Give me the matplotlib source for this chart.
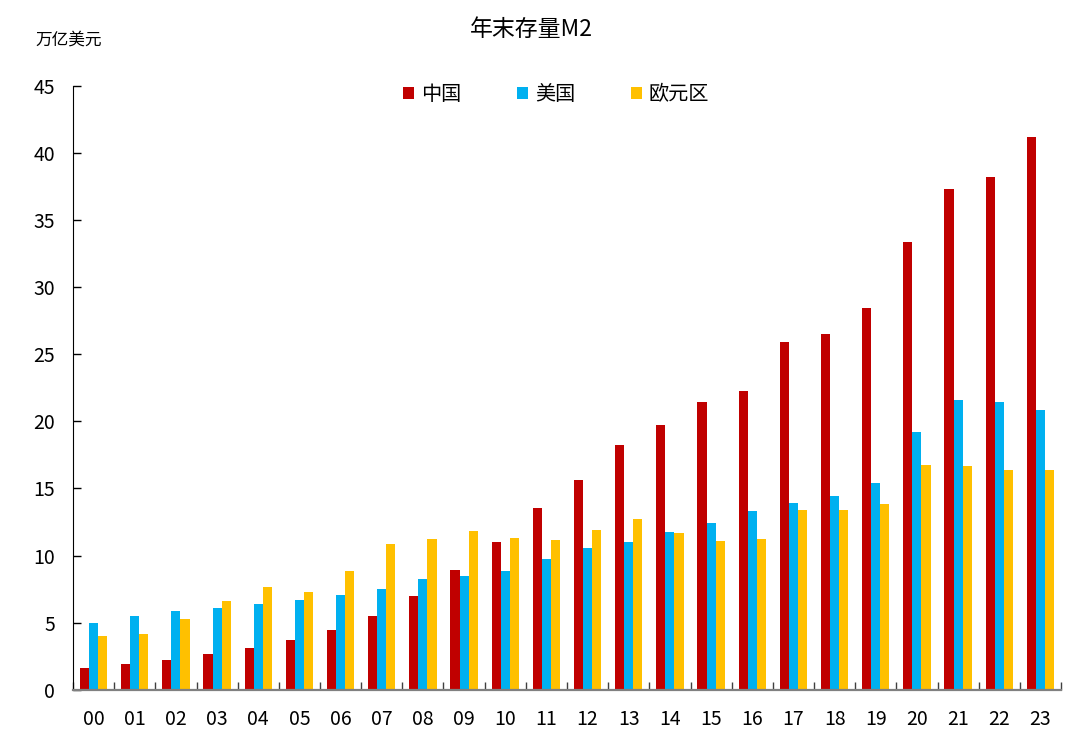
import numpy as np
import matplotlib
matplotlib.use("Agg")
import matplotlib.pyplot as plt
from matplotlib.patches import Patch

plt.rcParams['font.family'] = ['Noto Sans CJK SC', 'DejaVu Sans']

# 年份（两位数）
years = ['00', '01', '02', '03', '04', '05', '06', '07', '08', '09', '10', '11',
         '12', '13', '14', '15', '16', '17', '18', '19', '20', '21', '22', '23']

# 年末存量M2，万亿美元
china = [1.61, 1.91, 2.21, 2.63, 3.08, 3.72, 4.44, 5.53, 6.97, 8.95, 10.98, 13.51,
         15.6, 18.24, 19.73, 21.41, 22.28, 25.9, 26.54, 28.43, 33.36, 37.3, 38.24, 41.17]
usa = [4.94, 5.46, 5.83, 6.12, 6.42, 6.72, 7.07, 7.49, 8.23, 8.5, 8.88, 9.72,
       10.54, 11.03, 11.78, 12.42, 13.29, 13.93, 14.45, 15.39, 19.23, 21.61, 21.41, 20.85]
euro = [3.99, 4.14, 5.26, 6.62, 7.64, 7.29, 8.88, 10.83, 11.26, 11.85, 11.33, 11.18,
        11.93, 12.69, 11.7, 11.06, 11.26, 13.43, 13.43, 13.86, 16.78, 16.71, 16.41, 16.41]

names = ['中国', '美国', '欧元区']
colors = ['#C00000', '#00B0F0', '#FFC000']

fig = plt.figure(figsize=(10.8, 7.52), dpi=100)
ax = fig.add_axes([73 / 1080, 1 - 689.7 / 752, 988 / 1080, (689.7 - 86) / 752])

x = np.arange(len(years))
w = 0.22
for i, (vals, c) in enumerate(zip([china, usa, euro], colors)):
    ax.bar(x + (i - 1) * w, vals, width=w, color=c, linewidth=0)

ax.set_xlim(-0.5, len(years) - 0.5)
ax.set_ylim(0, 45)
ax.set_yticks(np.arange(0, 46, 5))
ax.tick_params(axis='y', direction='in', length=6, width=1, pad=13, labelsize=14)

# 类别标签在中心，刻度线在分组之间
ax.set_xticks(x)
ax.set_xticklabels(years)
ax.tick_params(axis='x', which='major', length=0, pad=14, labelsize=14)
ax.set_xticks(np.arange(-0.5, len(years) + 0.5, 1), minor=True)
ax.tick_params(axis='x', which='minor', direction='in', length=6, width=1, color='#404040')

for s in ['top', 'right']:
    ax.spines[s].set_visible(False)
ax.spines['left'].set_color('black')
ax.spines['bottom'].set_color('#808080')
ax.spines['bottom'].set_linewidth(1.6)

fig.text(531 / 1080, 1 - 30 / 752, '年末存量M2', ha='center', va='center', fontsize=16.5)
fig.text(35 / 1080, 1 - 40 / 752, '万亿美元', ha='left', va='center', fontsize=12)

handles = [Patch(facecolor=c, edgecolor='none') for c in colors]
fig.legend(handles, names, loc='center', bbox_to_anchor=(556 / 1080, 1 - 95 / 752), ncol=3,
           frameon=False, fontsize=14.5, handlelength=0.55, handleheight=0.55,
           handletextpad=0.35, columnspacing=2.75)

fig.savefig('out.png', dpi=100)
